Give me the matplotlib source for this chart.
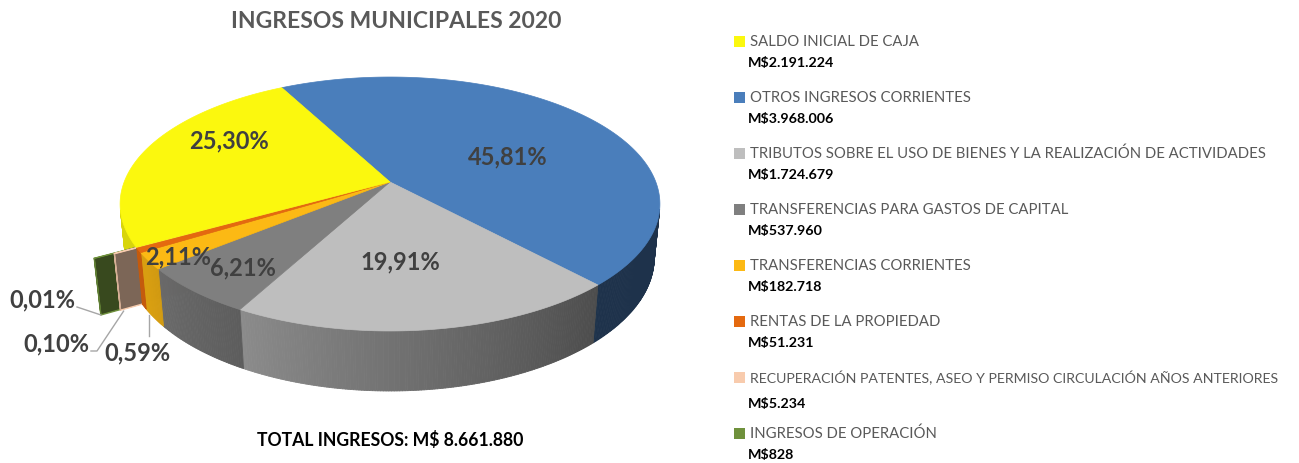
import numpy as np
import matplotlib
matplotlib.use("Agg")
import matplotlib.pyplot as plt
from matplotlib.patches import Polygon
from matplotlib.collections import PolyCollection
from matplotlib.colors import to_rgb

plt.rcParams['font.family'] = ['Lato', 'DejaVu Sans']

# data
categories = ['SALDO INICIAL DE CAJA',
              'OTROS INGRESOS CORRIENTES',
              'TRIBUTOS SOBRE EL USO DE BIENES Y LA REALIZACIÓN DE ACTIVIDADES',
              'TRANSFERENCIAS PARA GASTOS DE CAPITAL',
              'TRANSFERENCIAS CORRIENTES',
              'RENTAS DE LA PROPIEDAD',
              'RECUPERACIÓN PATENTES, ASEO Y PERMISO CIRCULACIÓN AÑOS ANTERIORES',
              'INGRESOS DE OPERACIÓN']
values = [2191224, 3968006, 1724679, 537960, 182718, 51231, 5234, 828]
value_labels = ['M$2.191.224', 'M$3.968.006', 'M$1.724.679', 'M$537.960',
                'M$182.718', 'M$51.231', 'M$5.234', 'M$828']
pct_labels = ['25,30%', '45,81%', '19,91%', '6,21%', '2,11%', '0,59%', '0,10%', '0,01%']
title = 'INGRESOS MUNICIPALES 2020'
total_label = 'TOTAL INGRESOS: M$ 8.661.880'

colors = ['#fbf80e', '#4a7ebb', '#bebebe', '#7f7f7f',
          '#fcb914', '#e4690f', '#f8cbad', '#6f913c']

# pie goes clockwise from the blue slice, yellow last
order = [1, 2, 3, 4, 5, 6, 7, 0]
explode = {6: 0.08, 7: 0.15}

# camera for the 3d look (pixel space)
ALPHA = np.radians(27.6)
DIST = 5.116
FOC = 1360.0
CX, CY = 390.0, 183.0
DEPTH = 0.229


def proj(u, v, z=0.0):
    zc = DIST + v * np.cos(ALPHA) - z * np.sin(ALPHA)
    yc = v * np.sin(ALPHA) + z * np.cos(ALPHA)
    return (CX + FOC * u / zc, CY - FOC * yc / zc)


def shade(t):
    deg = np.degrees(np.arctan2(np.sin(t), np.cos(t)))
    return np.clip(0.73 + 0.0046 * (-118 - deg), 0.40, 0.86)


total = float(sum(values))
angles = {}
t = np.radians(118)
for i in order:
    span = 2 * np.pi * values[i] / total
    angles[i] = (t, t - span)
    t -= span


def offset(i):
    t0, t1 = angles[i]
    m = (t0 + t1) / 2
    e = explode.get(i, 0.0)
    return e * np.cos(m), e * np.sin(m)


def arc(i):
    t0, t1 = angles[i]
    n = max(3, int(np.degrees(t0 - t1) / 0.5) + 2)
    return np.linspace(t0, t1, n)


def draw_wall(ax, i, z):
    ox, oy = offset(i)
    ts = arc(i)
    base = np.array(to_rgb(colors[i]))
    polys, cols = [], []
    for a, b in zip(ts[:-1], ts[1:]):
        m = (a + b) / 2
        if np.sin(m) > -0.215:
            continue
        pa = (ox + np.cos(a), oy + np.sin(a))
        pb = (ox + np.cos(b), oy + np.sin(b))
        polys.append([proj(*pa), proj(*pb), proj(*pb, -DEPTH), proj(*pa, -DEPTH)])
        cols.append(base * shade(m))
    if polys:
        ax.add_collection(PolyCollection(polys, facecolors=cols, edgecolors=cols,
                                         linewidths=0.6, zorder=z))


def draw_top(ax, i, z):
    ox, oy = offset(i)
    pts = [proj(ox, oy)] + [proj(ox + np.cos(a), oy + np.sin(a)) for a in arc(i)]
    ax.add_patch(Polygon(pts, closed=True, fc=colors[i], ec=colors[i], lw=0.5, zorder=z))


def draw_face(ax, i, z):
    ox, oy = offset(i)
    t0 = angles[i][0]
    rim = (ox + np.cos(t0), oy + np.sin(t0))
    pts = [proj(ox, oy), proj(*rim), proj(*rim, -DEPTH), proj(ox, oy, -DEPTH)]
    base = np.array(to_rgb(colors[i]))
    ax.add_patch(Polygon(pts, closed=True, fc=base * 0.5, ec=colors[i], lw=1.0, zorder=z))


fig = plt.figure(figsize=(12.99, 4.64), dpi=100)
ax = fig.add_axes([0, 0, 1, 1])
ax.set_xlim(0, 1299)
ax.set_ylim(464, 0)
ax.axis('off')

# yellow wall sits behind the exploded pieces
draw_wall(ax, 0, 1)
for k, i in enumerate([7, 6]):
    draw_face(ax, i, 2 + k)
    draw_wall(ax, i, 2 + k)
    draw_top(ax, i, 2 + k)
for i in order:
    if i in explode or i == 0:
        continue
    draw_wall(ax, i, 4)
for i in order:
    if i in explode:
        continue
    draw_top(ax, i, 5)

# percentage labels
label_xy = {0: (229, 141), 1: (508, 157), 2: (400, 262), 3: (243, 268),
            4: (178, 257), 5: (137, 353), 6: (56, 344), 7: (42, 300)}
for i, (lx, ly) in label_xy.items():
    ax.text(lx, ly, pct_labels[i], fontsize=17, fontweight='bold', color='#404040',
            ha='center', va='center', zorder=7)

# leader lines for the tiny slices
lc = '#a6a6a6'
t0 = angles[7][0]
ox, oy = offset(7)
gx, gy = proj(ox + np.cos(t0), oy + np.sin(t0), -DEPTH)
ax.plot([77, gx], [308, gy], color=lc, lw=1, zorder=6)
t0 = angles[6][0]
ox, oy = offset(6)
px, py = proj(ox + np.cos(t0), oy + np.sin(t0), -DEPTH)
ax.plot([91, 97, px + 3], [352, 352, py + 1], color=lc, lw=1, zorder=6)
t0 = angles[5][0]
rx, ry = proj(np.cos(t0), np.sin(t0), -DEPTH)
ax.plot([rx + 3, rx + 3], [ry + 6, 337], color=lc, lw=1, zorder=6)

ax.text(396, 22, title, fontsize=16.5, fontweight='bold', color='#595959',
        ha='center', va='center')
ax.text(390, 440, total_label, fontsize=12.7, fontweight='bold', color='black',
        ha='center', va='center')

# legend with values underneath
renderer = fig.canvas.get_renderer()
max_w = 535
for k in range(len(categories)):
    y = 42 + 56 * k
    ax.add_patch(plt.Rectangle((734, y - 5.5), 11, 11, fc=colors[k], ec='none'))
    txt = ax.text(750, y, categories[k], fontsize=10.7, color='#595959', va='center', ha='left')
    w = txt.get_window_extent(renderer).width
    if w > max_w:
        txt.set_fontsize(10.7 * max_w / w)
    vy = y + 21 if k < 6 else y + 26 - (k - 6) * 5
    ax.text(748, vy, value_labels[k], fontsize=10.3, fontweight='bold', color='black',
            va='center', ha='left')

fig.savefig('out.png', dpi=100)
